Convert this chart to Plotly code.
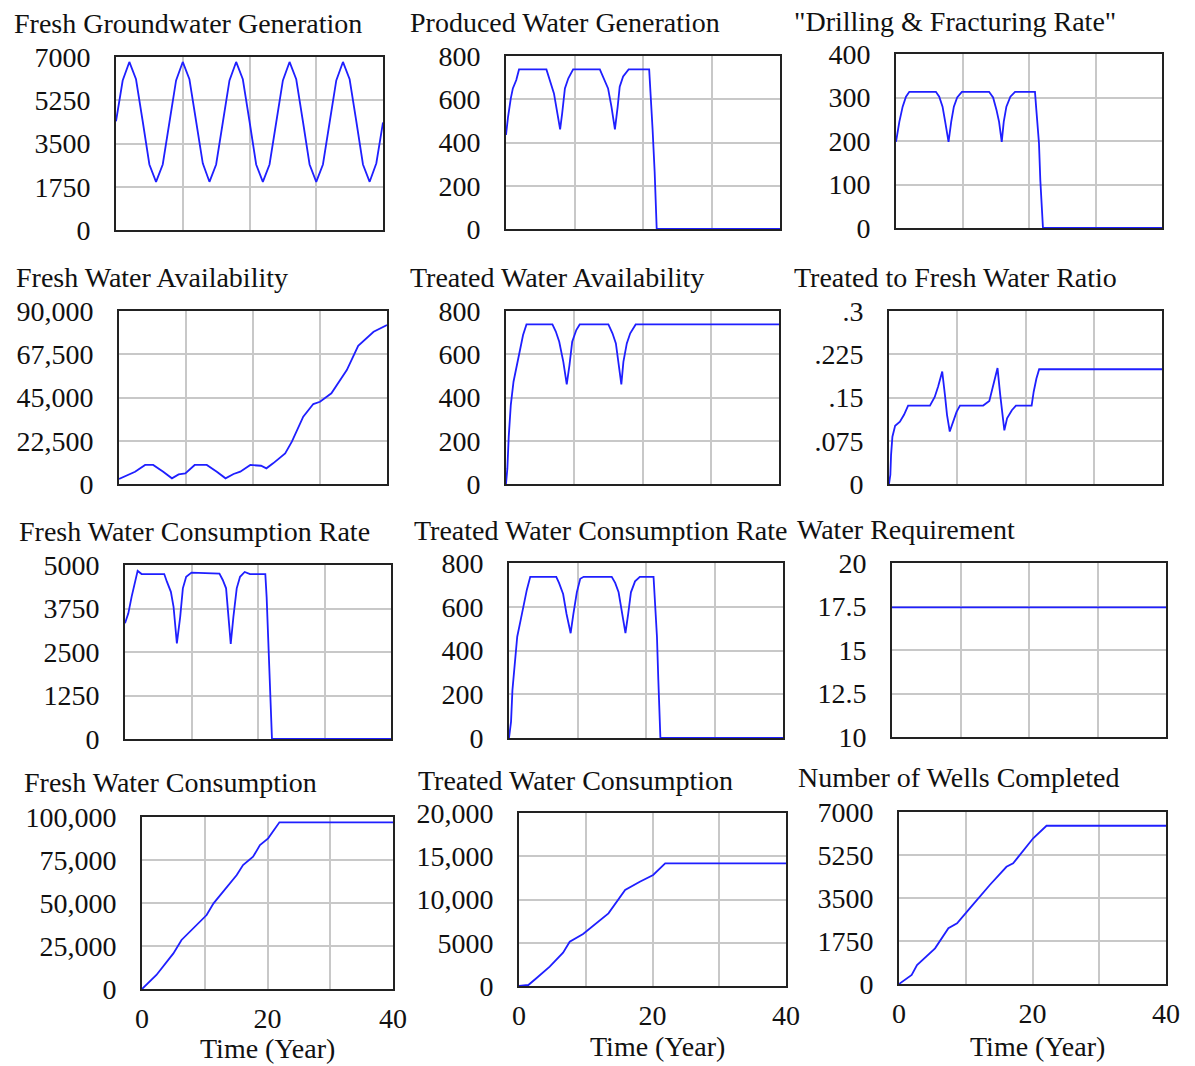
import plotly.graph_objects as go

W, H = 1195, 1066

# ---------------- data ----------------
titles = ["Fresh Groundwater Generation", "Produced Water Generation", "\"Drilling & Fracturing Rate\"",
          "Fresh Water Availability", "Treated Water Availability", "Treated to Fresh Water Ratio",
          "Fresh Water Consumption Rate", "Treated Water Consumption Rate", "Water Requirement",
          "Fresh Water Consumption", "Treated Water Consumption", "Number of Wells Completed"]

t1 = list(range(0, 41))
v1 = [4400, 6050, 6800, 6100, 4400, 2650, 1950, 2650, 4350, 6050, 6800, 6100, 4400, 2700, 1950, 2650,
      4350, 6050, 6800, 6100, 4400, 2650, 1950, 2650, 4350, 6050, 6800, 6100, 4400, 2650, 1950, 2650,
      4350, 6050, 6800, 6100, 4400, 2650, 1950, 2700, 4350]

t2 = [0, 0.1, 0.3, 0.7, 1.0, 1.5, 1.9, 5.9, 6.4, 7.0, 7.5, 7.9, 8.2, 8.6, 9.1, 9.8, 13.7, 14.3, 14.9,
      15.4, 15.9, 16.3, 16.6, 17.1, 17.9, 20.9, 21.1, 21.4, 21.7, 21.9, 22.0, 40]
v2 = [435, 467, 519, 604, 650, 689, 738, 738, 689, 627, 535, 461, 535, 650, 697, 738, 738, 697, 650,
      565, 461, 565, 658, 705, 738, 738, 646, 460, 265, 80, 0, 0]

t3 = [0, 0.5, 1.0, 1.5, 2.0, 6.0, 6.5, 7.0, 7.4, 7.9, 8.3, 8.7, 9.2, 9.9, 14.0, 14.6, 15.1, 15.5, 15.9,
      16.2, 16.6, 17.2, 17.9, 20.9, 21.1, 21.5, 21.7, 21.9, 22.1, 40]
v3 = [198, 244, 279, 302, 313, 313, 302, 279, 244, 198, 244, 279, 300, 313, 313, 300, 272, 244, 198,
      244, 279, 302, 313, 313, 272, 195, 110, 34, 0, 0]

t4 = [0, 2.4, 3.9, 5.1, 6.6, 7.9, 8.9, 9.9, 11.3, 13.1, 14.6, 15.9, 17.1, 18.1, 19.6, 21.2, 22.0, 23.0,
      24.8, 25.8, 27.5, 29.0, 30.0, 31.7, 34.0, 35.7, 38.0, 40]
v4 = [2600, 6400, 9900, 9900, 6400, 2950, 5000, 5550, 9900, 9900, 6400, 2950, 5200, 6400, 9900, 9500,
      8150, 10750, 15950, 22000, 35000, 41600, 42800, 47200, 59300, 71900, 79200, 82700]

t5 = [0, 0.2, 0.4, 0.7, 1.1, 1.6, 2.1, 2.5, 3.0, 6.8, 7.3, 7.8, 8.4, 8.9, 9.3, 9.7, 10.3, 10.8, 15.0,
      15.6, 16.1, 16.5, 16.9, 17.2, 17.7, 18.2, 19.0, 40]
v5 = [0, 72, 219, 365, 473, 550, 620, 689, 738, 738, 705, 658, 565, 461, 550, 658, 712, 738, 738, 697,
      650, 565, 461, 565, 650, 697, 738, 738]

t6 = [0, 0.2, 0.3, 0.5, 0.9, 1.6, 2.2, 2.8, 6.0, 6.7, 7.2, 7.8, 8.2, 8.5, 8.9, 9.4, 9.9, 10.4, 13.8,
      14.7, 15.3, 15.9, 16.3, 16.7, 16.9, 17.3, 18.0, 18.6, 20.9, 21.2, 21.6, 22.0, 40]
v6 = [0, 0.016, 0.050, 0.082, 0.101, 0.108, 0.120, 0.136, 0.136, 0.151, 0.169, 0.195, 0.154, 0.120,
      0.091, 0.108, 0.125, 0.136, 0.136, 0.144, 0.172, 0.201, 0.154, 0.108, 0.093, 0.114, 0.128, 0.136,
      0.136, 0.160, 0.183, 0.199, 0.199]

t7 = [0, 0.5, 1.0, 1.5, 1.9, 2.5, 5.9, 6.3, 6.9, 7.3, 7.8, 8.3, 8.7, 9.2, 10.0, 14.2, 14.7, 15.2, 15.6,
      15.9, 16.3, 16.8, 17.3, 18.0, 18.8, 21.1, 21.3, 21.5, 21.8, 22.0, 22.1, 40]
v7 = [3325, 3610, 4090, 4520, 4830, 4740, 4740, 4520, 4230, 3800, 2750, 3510, 4330, 4660, 4780, 4750,
      4570, 4330, 3510, 2730, 3510, 4330, 4660, 4800, 4740, 4740, 4070, 2940, 1740, 545, 0, 0]

t8 = [0, 0.3, 0.5, 0.9, 1.2, 1.7, 2.2, 2.6, 3.1, 6.9, 7.3, 7.9, 8.4, 9.0, 9.4, 9.9, 10.4, 10.9, 15.0,
      15.5, 16.0, 16.5, 17.0, 17.4, 17.8, 18.4, 19.1, 21.1, 21.3, 21.6, 21.8, 22.0, 22.1, 40]
v8 = [0, 75, 219, 364, 463, 539, 616, 677, 737, 737, 709, 658, 567, 479, 567, 666, 728, 737, 737, 709,
      666, 567, 479, 567, 666, 716, 737, 737, 639, 463, 265, 82, 0, 0]

t9 = [0, 40]
v9 = [17.45, 17.45]

t10 = [0, 2.3, 5.0, 6.3, 10.3, 11.4, 15.1, 16.1, 17.7, 18.8, 20.1, 21.9, 40]
v10 = [0, 8140, 20700, 28500, 43000, 49800, 66300, 72100, 76900, 83700, 87600, 96900, 96900]

t11 = [0, 1.4, 2.6, 4.6, 6.6, 7.6, 9.6, 13.4, 15.9, 18.1, 20.1, 21.9, 40]
v11 = [0, 115, 890, 2230, 3850, 5120, 6010, 8400, 11100, 12060, 12830, 14180, 14180]

t12 = [0, 1.9, 2.7, 5.4, 7.4, 8.7, 10.6, 13.6, 16.1, 17.1, 20.1, 22.1, 40]
v12 = [0, 366, 773, 1450, 2270, 2470, 3080, 4030, 4770, 4910, 5930, 6440, 6440]

# y tick values / labels
yticks = [
    [0, 1750, 3500, 5250, 7000],
    [0, 200, 400, 600, 800],
    [0, 100, 200, 300, 400],
    [0, 22500, 45000, 67500, 90000],
    [0, 200, 400, 600, 800],
    [0, 0.075, 0.15, 0.225, 0.3],
    [0, 1250, 2500, 3750, 5000],
    [0, 200, 400, 600, 800],
    [10, 12.5, 15, 17.5, 20],
    [0, 25000, 50000, 75000, 100000],
    [0, 5000, 10000, 15000, 20000],
    [0, 1750, 3500, 5250, 7000],
]
ylabels = [
    ["0", "1750", "3500", "5250", "7000"],
    ["0", "200", "400", "600", "800"],
    ["0", "100", "200", "300", "400"],
    ["0", "22,500", "45,000", "67,500", "90,000"],
    ["0", "200", "400", "600", "800"],
    ["0", ".075", ".15", ".225", ".3"],
    ["0", "1250", "2500", "3750", "5000"],
    ["0", "200", "400", "600", "800"],
    ["10", "12.5", "15", "17.5", "20"],
    ["0", "25,000", "50,000", "75,000", "100,000"],
    ["0", "5000", "10,000", "15,000", "20,000"],
    ["0", "1750", "3500", "5250", "7000"],
]
xticks = [0, 10, 20, 30, 40]
xlabels = ["0", "", "20", "", "40"]
xtitle = "Time (Year)"

series = [(t1, v1), (t2, v2), (t3, v3), (t4, v4), (t5, v5), (t6, v6),
          (t7, v7), (t8, v8), (t9, v9), (t10, v10), (t11, v11), (t12, v12)]

# ---------------- layout (pixel boxes) ----------------
boxes = [  # x0, x1, y0(top), y1(bottom) in pixels
    (116, 383, 57, 230), (506, 780, 56, 229), (896, 1162, 54, 228),
    (119, 387, 311, 484), (506, 779, 311, 484), (889, 1162, 311, 484),
    (125, 391, 565, 739), (509, 783, 563, 738), (892, 1166, 563, 737),
    (142, 393, 817, 989), (519, 786, 813, 986), (899, 1166, 812, 984),
]
title_pos = [(12, 23), (408, 22), (792, 21),
             (14, 277), (408, 277), (792, 277),
             (17, 531), (412, 530), (795, 529),
             (22, 782), (416, 780), (796, 777)]
xtitle_pos = [(267, 1048), (657, 1046), (1037, 1046)]

FONT = "Liberation Serif, Times New Roman, serif"
FS = 28
TXT = "#111111"
BLUE = "#1f1fff"

fig = go.Figure()
layout = dict(width=W, height=H, autosize=False,
              margin=dict(l=0, r=0, t=0, b=0, pad=0, autoexpand=False),
              paper_bgcolor="white", plot_bgcolor="white", showlegend=False,
              font=dict(family=FONT, size=FS, color=TXT))
annotations = []

for i, ((tt, vv), (x0, x1, y0, y1)) in enumerate(zip(series, boxes)):
    n = i + 1
    xa = "x" if n == 1 else f"x{n}"
    ya = "y" if n == 1 else f"y{n}"
    fig.add_trace(go.Scatter(x=tt, y=vv, mode="lines", xaxis=xa, yaxis=ya,
                             line=dict(color=BLUE, width=1.8), hoverinfo="skip"))
    bottom = i >= 9
    xkey = "xaxis" if n == 1 else f"xaxis{n}"
    ykey = "yaxis" if n == 1 else f"yaxis{n}"
    layout[xkey] = dict(domain=[x0 / W, x1 / W], range=[0, 40], anchor=ya,
                        tickvals=xticks, ticktext=xlabels, showticklabels=bottom,
                        ticks="", ticklabelstandoff=3, automargin=False,
                        showgrid=True, gridcolor="#c8c8c8", gridwidth=1.5,
                        showline=True, mirror=True, linecolor="#222222", linewidth=2,
                        zeroline=False, layer="below traces",
                        tickfont=dict(family=FONT, size=FS, color=TXT))
    yt = yticks[i]
    layout[ykey] = dict(domain=[1 - y1 / H, 1 - y0 / H], range=[yt[0], yt[-1]], anchor=xa,
                        tickvals=yt, ticktext=ylabels[i],
                        ticks="", ticklabelstandoff=18, automargin=False,
                        showgrid=True, gridcolor="#c8c8c8", gridwidth=1.5,
                        showline=True, mirror=True, linecolor="#222222", linewidth=2,
                        zeroline=False, layer="below traces",
                        tickfont=dict(family=FONT, size=FS, color=TXT))
    tx, ty = title_pos[i]
    annotations.append(dict(text=titles[i], x=tx / W, y=1 - ty / H, xref="paper", yref="paper",
                            xanchor="left", yanchor="middle", showarrow=False,
                            font=dict(family=FONT, size=FS, color=TXT)))

for (cx, cy) in xtitle_pos:
    annotations.append(dict(text=xtitle, x=cx / W, y=1 - cy / H, xref="paper", yref="paper",
                            xanchor="center", yanchor="middle", showarrow=False,
                            font=dict(family=FONT, size=FS, color=TXT)))

layout["annotations"] = annotations
fig.update_layout(**layout)
fig.write_html("out.html", config={"displayModeBar": False},
               post_script="document.body.style.margin='0';document.body.style.padding='0';"
                           "document.documentElement.style.overflow='hidden';")
